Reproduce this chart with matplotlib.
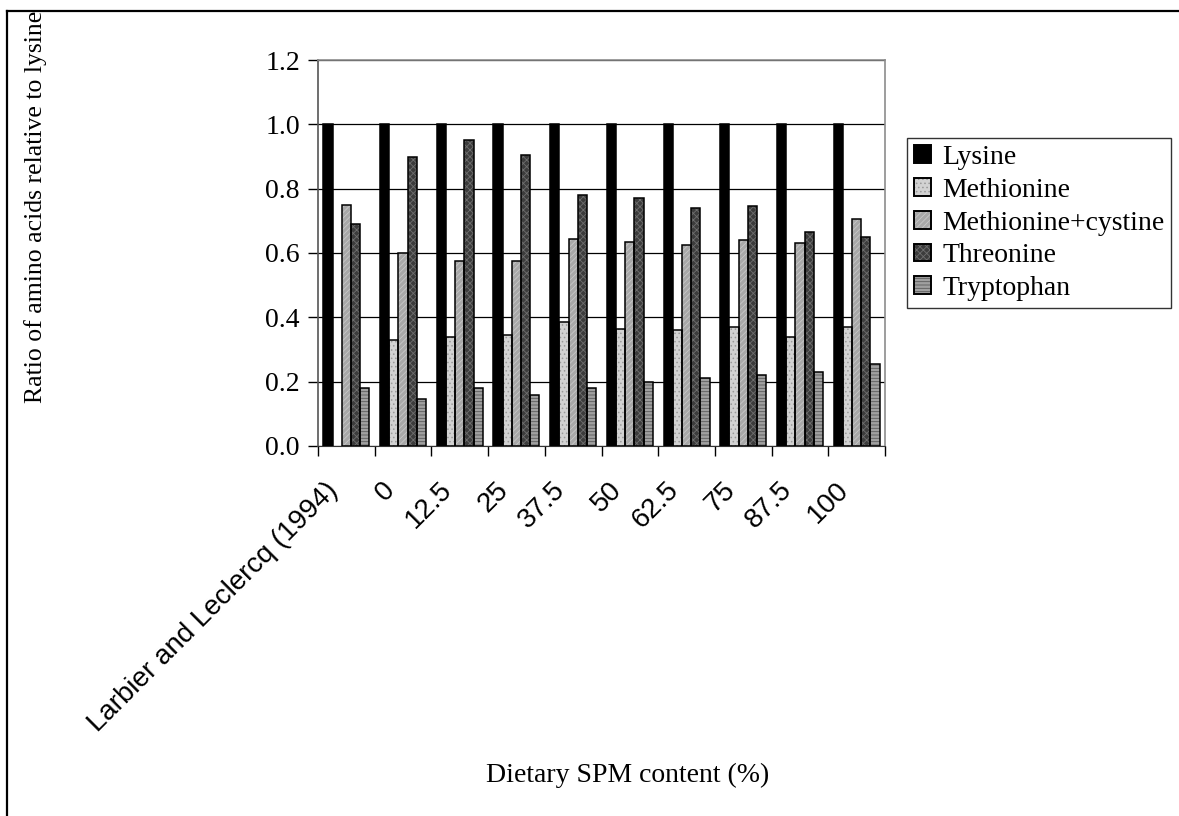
import numpy as np
import matplotlib
matplotlib.use("Agg")
import matplotlib.pyplot as plt
from matplotlib.patches import Patch
from matplotlib.lines import Line2D
from matplotlib.legend_handler import HandlerTuple
from matplotlib.transforms import ScaledTranslation

# Amino acid ratios (relative to lysine) for the reference requirement and each diet
categories = ["Larbier and Leclercq (1994)", "0", "12.5", "25", "37.5",
              "50", "62.5", "75", "87.5", "100"]
lysine = [1.0, 1.0, 1.0, 1.0, 1.0, 1.0, 1.0, 1.0, 1.0, 1.0]
methionine = [np.nan, 0.33, 0.34, 0.345, 0.385, 0.365, 0.36, 0.37, 0.34, 0.37]
met_cys = [0.75, 0.60, 0.575, 0.575, 0.645, 0.635, 0.625, 0.64, 0.63, 0.705]
threonine = [0.69, 0.90, 0.95, 0.905, 0.78, 0.77, 0.74, 0.745, 0.665, 0.65]
tryptophan = [0.18, 0.145, 0.18, 0.16, 0.18, 0.20, 0.21, 0.22, 0.23, 0.255]

series_names = ["Lysine", "Methionine", "Methionine+cystine", "Threonine", "Tryptophan"]
series_values = [lysine, methionine, met_cys, threonine, tryptophan]

# fill colour, hatch pattern, hatch colour
styles = [
    ("#000000", None, "#000000"),
    ("#d2d2d2", "....", "#9a9a9a"),
    ("#a8a8a8", "//////", "#c8c8c8"),
    ("#3c3c3c", "xxxxx", "#6e6e6e"),
    ("#a0a0a0", "-----", "#5a5a5a"),
]

plt.rcParams["hatch.linewidth"] = 0.6
serif = ["Liberation Serif", "DejaVu Serif"]
sans = ["Liberation Sans", "DejaVu Sans"]

fig = plt.figure(figsize=(11.79, 8.16), dpi=100)
ax = fig.add_axes([318 / 1179, 1 - 446 / 816, (885 - 318) / 1179, (446 - 60) / 816])

x = np.arange(len(categories))
width = 0.162
handles = []
for i, (name, vals, (face, hatch, hcol)) in enumerate(zip(series_names, series_values, styles)):
    pos = x + (i - 2) * width
    ax.bar(pos, vals, width, color=face, hatch=hatch, edgecolor=hcol, linewidth=0, zorder=2)
    ax.bar(pos, vals, width, fill=False, edgecolor="black", linewidth=1.1, zorder=3)
    handles.append((Patch(facecolor=face, hatch=hatch, edgecolor=hcol, linewidth=0),
                    Patch(fill=False, edgecolor="black", linewidth=1.4)))

ax.set_xlim(-0.5, len(categories) - 0.5)
ax.set_ylim(0, 1.2)
ax.set_yticks(np.arange(0, 1.21, 0.2))
ax.set_yticklabels([f"{v:.1f}" for v in np.arange(0, 1.21, 0.2)], fontfamily=serif, fontsize=20)
ax.yaxis.grid(True, color="black", linewidth=0.9)
ax.set_axisbelow(True)

# group boundaries carry the tick marks, group centres carry the labels
ax.set_xticks(np.arange(-0.5, len(categories)), minor=False)
ax.set_xticklabels([])
ax.set_xticks(x, minor=True)
ax.set_xticklabels(categories, minor=True, rotation=45, ha="right", va="center",
                   rotation_mode="anchor", fontfamily=sans, fontsize=20)
ax.tick_params(axis="x", which="major", direction="out", length=7, width=1)
ax.tick_params(axis="x", which="minor", length=0, pad=29)
ax.tick_params(axis="y", direction="out", length=7, width=1, pad=6)
shift = ScaledTranslation(-12 / 100, 0, fig.dpi_scale_trans)
for lab in ax.get_xticklabels(minor=True):
    lab.set_transform(lab.get_transform() + shift)

for side in ("top", "right"):
    ax.spines[side].set_color("#8c8c8c")
    ax.spines[side].set_linewidth(1.2)
ax.spines["left"].set_color("#555555")
ax.spines["left"].set_linewidth(1.2)
ax.spines["bottom"].set_color("#333333")

fig.text(36 / 1179, 1 - 207 / 816, "Ratio of amino acids relative to lysine",
         rotation=90, ha="center", va="center", fontfamily=serif, fontsize=18.5)
fig.text(628 / 1179, 1 - 775 / 816, "Dietary SPM content (%)",
         ha="center", va="center", fontfamily=serif, fontsize=20)

leg = fig.legend(handles, series_names, loc="upper left",
                 bbox_to_anchor=(907 / 1179, 1 - 138 / 816),
                 handler_map={tuple: HandlerTuple(ndivide=1, pad=0)},
                 prop={"family": serif, "size": 20}, frameon=True, fancybox=False,
                 edgecolor="black", handlelength=0.6, handleheight=0.6,
                 handletextpad=0.42, labelspacing=0.28, borderpad=0.25, borderaxespad=0)
leg.get_frame().set_linewidth(1.0)

# outer frame along the left and top edges
fig.add_artist(Line2D([7 / 1179, 7 / 1179], [0, 1 - 11 / 816], color="black", linewidth=1.6))
fig.add_artist(Line2D([7 / 1179, 1], [1 - 11 / 816, 1 - 11 / 816], color="black", linewidth=1.6))

fig.savefig("out.png", dpi=100)
